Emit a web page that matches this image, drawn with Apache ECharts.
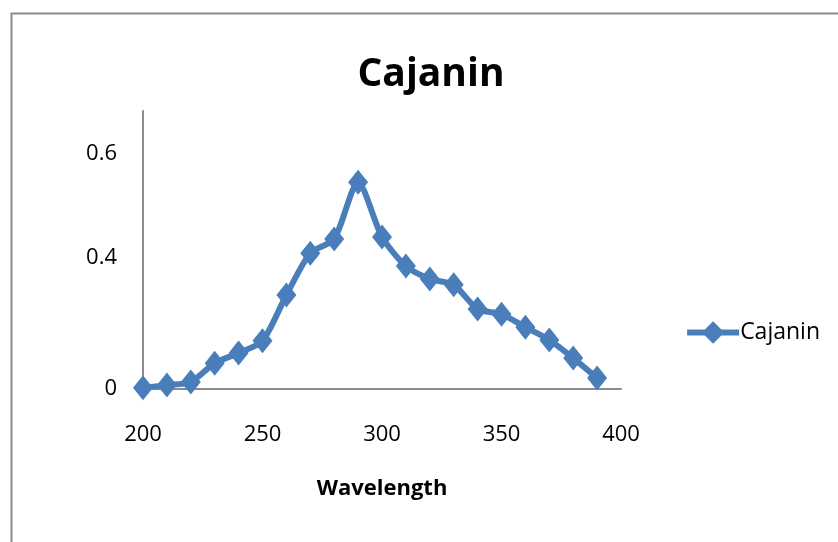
<!DOCTYPE html>
<html>
<head>
<meta charset="utf-8">
<script src="https://cdn.jsdelivr.net/npm/echarts@6/dist/echarts.min.js"></script>
<style>
html,body{margin:0;padding:0;background:#fff;}
#chart{width:838px;height:542px;}
</style>
</head>
<body>
<div id="chart"></div>
<script>
// Data
var wavelengths = [200,210,220,230,240,250,260,270,280,290,300,310,320,330,340,350,360,370,380,390];
var cajanin = [0.003,0.010,0.018,0.066,0.092,0.123,0.240,0.347,0.383,0.528,0.388,0.314,0.281,0.266,0.204,0.191,0.158,0.125,0.079,0.028];
var xTickLabels = ['200','250','300','350','400'];
var yTickLabels = ['0','0.4','0.6'];
// axis values at which the reference places its y tick labels
var yTickAt = [0, 0.334, 0.6];

var FONT = '"Open Sans", "Liberation Sans", sans-serif';
var chart = echarts.init(document.getElementById('chart'), null, {renderer:'canvas'});
var points = wavelengths.map(function(w,i){ return [w, cajanin[i]]; });

chart.setOption({
  backgroundColor:'#ffffff',
  animation:false,
  graphic:[{
    type:'rect', left:9, top:11,
    shape:{width:900, height:600},
    style:{fill:'none', stroke:'#8c8c8c', lineWidth:2}
  }],
  title:{
    text:'Cajanin', left:426, top:50, textAlign:'center',
    textStyle:{fontFamily:FONT, fontWeight:'bold', fontSize:39, color:'#000'}
  },
  legend:{
    right:13, top:316, orient:'vertical',
    itemWidth:52, itemHeight:28, itemGap:6,
    textStyle:{fontFamily:FONT, fontSize:23, color:'#000', padding:[0,0,0,-4]},
    data:[{name:'Cajanin', lineStyle:{width:6, color:'#4a7ebb'}, itemStyle:{color:'#4a7ebb'}}]
  },
  grid:{left:143, right:217, top:111, bottom:153, containLabel:false},
  xAxis:{
    type:'value', min:200, max:400, interval:50,
    name:'Wavelength', nameLocation:'middle', nameGap:89,
    nameTextStyle:{fontFamily:FONT, fontWeight:'bold', fontSize:22, color:'#000'},
    axisLine:{show:true, lineStyle:{color:'#8c8c8c', width:2}},
    axisTick:{show:false},
    splitLine:{show:false},
    axisLabel:{fontFamily:FONT, fontSize:22, color:'#000', margin:35,
      formatter:function(v){ var i = xTickLabels.indexOf(String(v)); return i>=0 ? xTickLabels[i] : ''; }}
  },
  yAxis:{
    type:'value', min:0, max:0.71,
    axisLine:{show:true, lineStyle:{color:'#8c8c8c', width:2}},
    axisTick:{show:false},
    splitLine:{show:false},
    axisLabel:{fontFamily:FONT, fontSize:22, color:'#000', margin:26,
      customValues:yTickAt,
      formatter:function(v){ var i = yTickAt.indexOf(v); return i>=0 ? yTickLabels[i] : ''; }}
  },
  series:[{
    name:'Cajanin', type:'line', data:points,
    smooth:0.25,
    symbol:'diamond', symbolSize:[20,25],
    lineStyle:{color:'#4a7ebb', width:6},
    itemStyle:{color:'#4a7ebb'}
  }]
});
</script>
</body>
</html>
